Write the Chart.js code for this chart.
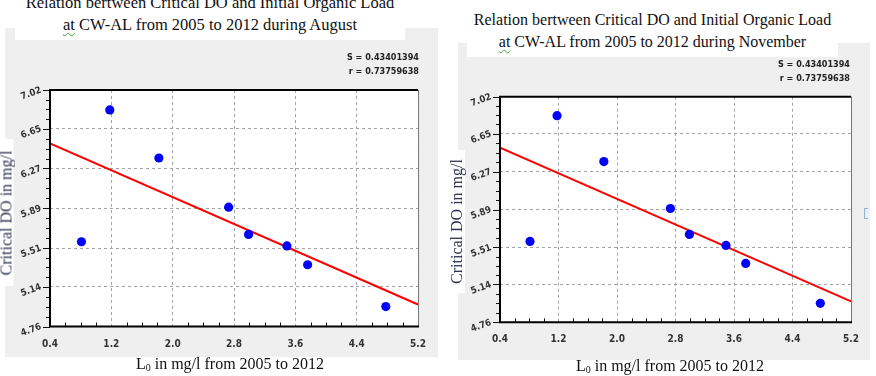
<!DOCTYPE html>
<html>
<head>
<meta charset="utf-8">
<script src="https://cdn.jsdelivr.net/npm/chart.js@4.4.1/dist/chart.umd.min.js"></script>
<style>
  html, body { margin: 0; padding: 0; background: #fff; width: 876px; height: 376px; overflow: hidden; }
  .panel { position: absolute; background: #efefef; }
  .panel canvas { position: absolute; left: 0; top: 0; }
  .title { position: absolute; background: #fff; text-align: center; overflow: hidden;
    font-family: 'Liberation Serif', 'Times New Roman', serif; color: #111; line-height: 22px; }
  .title .spell { text-decoration: underline wavy #3c9a3c; text-decoration-thickness: 1px; text-underline-offset: 2px; }
  .ytitle { position: absolute; background: #fff; text-align: center; white-space: nowrap;
    font-family: 'Liberation Serif', 'Times New Roman', serif; font-size: 16px; color: #2f3350;
    transform: rotate(-90deg); }
  .xtitle { position: absolute; text-align: center; white-space: nowrap;
    font-family: 'Liberation Serif', 'Times New Roman', serif; font-size: 16px; color: #111; }
  .xtitle sub { font-size: 10px; vertical-align: -2px; }
  .stats { position: absolute; text-align: right; white-space: nowrap;
    font-family: 'Liberation Sans Narrow', 'DejaVu Sans Condensed', Arial, sans-serif;
    font-weight: bold; font-size: 9px; line-height: 14px; color: #222; }
  .handle { position: absolute; left: 864px; top: 208px; width: 3px; height: 9px;
    border: 1px solid #8fb4d8; border-right: none; }
</style>
</head>
<body>
<div class="panel" style="left:5px;top:28px;width:433px;height:329px"><canvas id="augChart" width="433" height="329"></canvas></div>
<div class="panel" style="left:458px;top:43px;width:412px;height:317px"><canvas id="novChart" width="412" height="317"></canvas></div>

<div class="title" id="augTitle" style="left:15px;top:0;width:390px;height:40px;font-size:16.5px;"></div>
<div class="title" id="novTitle" style="left:467px;top:0;width:371px;height:57px;font-size:16px;padding-top:0;"></div>

<div class="ytitle" id="augYTitle" style="left:-67px;top:206px;width:147px;height:14px;line-height:14px;"></div>
<div class="ytitle" id="novYTitle" style="left:385px;top:213px;width:143px;height:17px;line-height:17px;"></div>

<div class="xtitle" id="augXTitle" style="left:80px;top:355px;width:300px;"></div>
<div class="xtitle" id="novXTitle" style="left:520px;top:357px;width:300px;"></div>

<div class="stats" id="augStats" style="left:300px;top:50px;width:119px;"></div>
<div class="stats" id="novStats" style="left:730px;top:57px;width:120px;"></div>

<div class="handle"></div>

<script>
// values (both months show the same points)
const loadValues = [0.81, 1.18, 1.82, 2.73, 2.99, 3.49, 3.76, 4.78];
const doValues = [5.57, 6.83, 6.37, 5.90, 5.64, 5.53, 5.35, 4.95];
const fitX = [0.4, 5.2];
const fitY = [6.51, 4.97];
const xTicks = [0.4, 1.2, 2.0, 2.8, 3.6, 4.4, 5.2];
const yTicks = [4.76, 5.14, 5.51, 5.89, 6.27, 6.65, 7.02];
const statLines = ['S = 0.43401394', 'r = 0.73759638'];
const titleLine1 = 'Relation bertween Critical DO and Initial Organic Load';
const augTitleLine2 = ['at', ' CW-AL from 2005 to 2012 during August'];
const novTitleLine2 = ['at', ' CW-AL from 2005 to 2012 during November'];
const yTitle = 'Critical DO in mg/l';
const xTitle = ['L', '0', ' in mg/l from 2005 to 2012'];

const tickFont = { family: "'Liberation Sans Narrow', 'DejaVu Sans Condensed', Arial, sans-serif", size: 10, weight: 'bold' };

function fillTitle(el, line2, offset) {
  el.innerHTML = `<div style="margin-top:${offset}px">${titleLine1}<br><span class="spell">${line2[0]}</span>${line2[1]}</div>`;
}
fillTitle(document.getElementById('augTitle'), augTitleLine2, -8);
fillTitle(document.getElementById('novTitle'), novTitleLine2, 9);
['augYTitle', 'novYTitle'].forEach((id) => { document.getElementById(id).textContent = yTitle; });
['augXTitle', 'novXTitle'].forEach((id) => {
  document.getElementById(id).innerHTML = `${xTitle[0]}<sub>${xTitle[1]}</sub>${xTitle[2]}`;
});
['augStats', 'novStats'].forEach((id) => { document.getElementById(id).innerHTML = statLines.join('<br>'); });

const frame = {
  id: 'frame',
  beforeDraw(chart) {
    const { ctx, chartArea: a } = chart;
    ctx.save();
    ctx.fillStyle = '#ffffff';
    ctx.fillRect(a.left, a.top, a.right - a.left, a.bottom - a.top);
    ctx.restore();
  },
  afterDraw(chart) {
    const { ctx, chartArea: a, scales: { x, y } } = chart;
    ctx.save();
    ctx.strokeStyle = '#111';
    ctx.lineWidth = 1;
    ctx.beginPath();
    yTicks.forEach((v, i) => {
      const py = Math.round(y.getPixelForValue(v)) + 0.5;
      ctx.moveTo(a.left - 7, py);
      ctx.lineTo(a.left, py);
      if (i < yTicks.length - 1) {
        const step = (yTicks[i + 1] - v) / 4;
        for (let k = 1; k < 4; k++) {
          const my = Math.round(y.getPixelForValue(v + step * k)) + 0.5;
          ctx.moveTo(a.left - 4, my);
          ctx.lineTo(a.left, my);
        }
      }
    });
    xTicks.forEach((v, i) => {
      if (i < xTicks.length - 1) {
        const step = (xTicks[i + 1] - v) / 4;
        for (let k = 1; k < 4; k++) {
          const mx = Math.round(x.getPixelForValue(v + step * k)) + 0.5;
          ctx.moveTo(mx, a.bottom);
          ctx.lineTo(mx, a.bottom - 4);
        }
      }
    });
    ctx.stroke();

    ctx.strokeStyle = '#777';
    ctx.beginPath();
    ctx.moveTo(a.right + 0.5, a.top);
    ctx.lineTo(a.right + 0.5, a.bottom);
    ctx.stroke();

    ctx.strokeStyle = '#000';
    ctx.lineWidth = 2;
    ctx.beginPath();
    ctx.moveTo(a.right, a.top);
    ctx.lineTo(a.left, a.top);
    ctx.lineTo(a.left, a.bottom);
    ctx.lineTo(a.right + 1, a.bottom);
    ctx.stroke();
    ctx.restore();
  },
};

function buildChart(canvasId, yWidth, xHeight, padding, xPad) {
  return new Chart(document.getElementById(canvasId), {
    type: 'scatter',
    data: {
      datasets: [
        {
          type: 'line',
          data: fitX.map((x, i) => ({ x, y: fitY[i] })),
          borderColor: '#ff0000',
          borderWidth: 2,
          pointRadius: 0,
          fill: false,
          order: 1,
        },
        {
          data: loadValues.map((x, i) => ({ x, y: doValues[i] })),
          backgroundColor: '#0000ff',
          borderColor: '#0000ff',
          borderWidth: 0,
          pointRadius: 4.6,
          order: 0,
        },
      ],
    },
    options: {
      responsive: false,
      animation: false,
      devicePixelRatio: 1,
      layout: { padding },
      plugins: { legend: { display: false }, tooltip: { enabled: false } },
      scales: {
        x: {
          type: 'linear',
          min: 0.4,
          max: 5.2,
          afterBuildTicks: (s) => { s.ticks = xTicks.map((value) => ({ value })); },
          afterFit: (s) => { s.height = xHeight; },
          ticks: {
            font: tickFont,
            color: '#333',
            padding: xPad,
            maxRotation: 0,
            autoSkip: false,
            callback: (v) => Number(v).toFixed(1),
          },
          grid: { color: '#a3a3a3', lineWidth: 1, drawTicks: false },
          border: { display: false, dash: [3, 3] },
        },
        y: {
          type: 'linear',
          min: 4.76,
          max: 7.02,
          afterBuildTicks: (s) => { s.ticks = yTicks.map((value) => ({ value })); },
          afterFit: (s) => { s.width = yWidth; },
          ticks: {
            font: { ...tickFont, size: 9.5 },
            color: '#333',
            padding: 9,
            minRotation: 20,
            maxRotation: 20,
            autoSkip: false,
            callback: (v) => Number(v).toFixed(2),
          },
          grid: { color: '#a3a3a3', lineWidth: 1, drawTicks: false },
          border: { display: false, dash: [3, 3] },
        },
      },
    },
    plugins: [frame],
  });
}

buildChart('augChart', 45, 30.5, { top: 62, right: 17, left: 0, bottom: 0 }, 12);
buildChart('novChart', 42, 37.7, { top: 53.7, right: 18, left: 0, bottom: 0 }, 11);
</script>
</body>
</html>
